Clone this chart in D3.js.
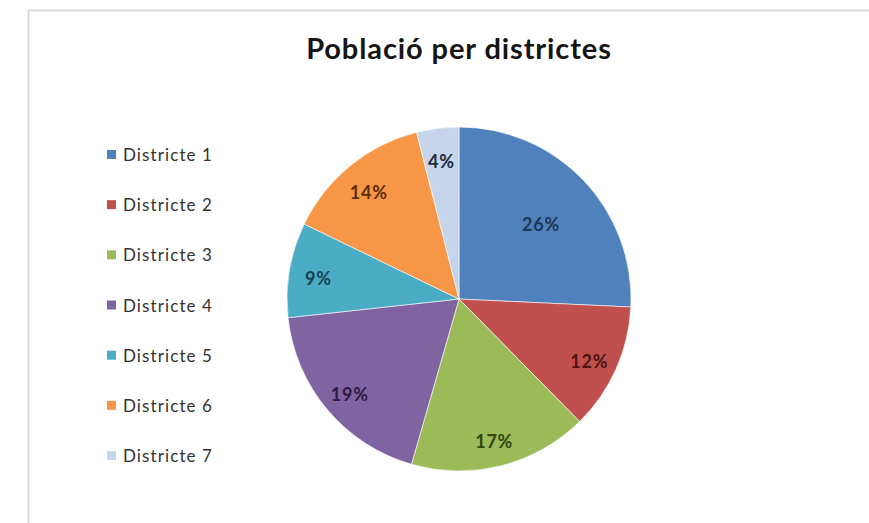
<!DOCTYPE html>
<html>
<head>
<meta charset="utf-8">
<script src="https://cdn.jsdelivr.net/npm/d3@7"></script>
<style>
  html, body { margin: 0; padding: 0; background: #ffffff; }
  svg { display: block; }
</style>
</head>
<body>
<svg id="chart" width="869" height="523"></svg>
<script>
// Population share per district (percent)
const categories = ["Districte 1", "Districte 2", "Districte 3", "Districte 4", "Districte 5", "Districte 6", "Districte 7"];
const values = [26, 12, 17, 19, 9, 14, 4];
const colors = ["#4F81BD", "#C0504D", "#9BBB59", "#8064A2", "#4BACC6", "#F79646", "#C6D5EB"];
const labelColors = ["#1d3656", "#4d1413", "#2f4512", "#2c1a44", "#12444f", "#5a2e06", "#1d2a3f"];
const title = "Població per districtes";

const svg = d3.select("#chart");
const W = 869, H = 523;
const FONT = "Lato, 'Open Sans', sans-serif";

// chart area frame
svg.append("rect").attr("x", 0).attr("y", 0).attr("width", W).attr("height", H).attr("fill", "#ffffff");
svg.append("path")
  .attr("d", `M28.5,${H} V10.5 H${W}`)
  .attr("fill", "none").attr("stroke", "#d9d9d9").attr("stroke-width", 2);

// title
svg.append("text")
  .attr("x", 459).attr("y", 59)
  .attr("text-anchor", "middle")
  .attr("font-family", FONT)
  .attr("font-weight", "bold")
  .attr("font-size", 29)
  .attr("letter-spacing", 0.9)
  .attr("fill", "#151515")
  .text(title);

// pie
const cx = 459, cy = 299, R = 172;
const pie = d3.pie().sort(null).value(d => d)(values);
const arc = d3.arc().innerRadius(0).outerRadius(R);
const g = svg.append("g").attr("transform", `translate(${cx},${cy})`);

g.selectAll("path.slice")
  .data(pie)
  .join("path")
  .attr("class", "slice")
  .attr("d", arc)
  .attr("fill", (d, i) => colors[i])
  .attr("stroke", "#ffffff")
  .attr("stroke-opacity", 0.6)
  .attr("stroke-width", 1);

// best-fit style label placement: the largest slice keeps its label nearer the centre
const labelR = i => (values[i] === d3.max(values) ? 0.66 : 0.83) * R;
g.selectAll("text.lbl")
  .data(pie)
  .join("text")
  .attr("class", "lbl")
  .attr("transform", (d, i) => {
    const a = (d.startAngle + d.endAngle) / 2;
    const r = labelR(i);
    return `translate(${r * Math.sin(a)},${-r * Math.cos(a) + 4})`;
  })
  .attr("dy", "0.36em")
  .attr("text-anchor", "middle")
  .attr("font-family", FONT)
  .attr("font-weight", "bold")
  .attr("font-size", 18)
  .attr("letter-spacing", 0.8)
  .attr("fill", (d, i) => labelColors[i])
  .text(d => d.data + "%");

// legend
const legend = svg.append("g").attr("transform", "translate(107,0)");
const rowY = d3.scalePoint().domain(categories).range([155, 456]);
const rows = legend.selectAll("g.row")
  .data(categories)
  .join("g")
  .attr("class", "row")
  .attr("transform", d => `translate(0,${rowY(d)})`);
rows.append("rect")
  .attr("x", 0).attr("y", -5).attr("width", 9).attr("height", 9)
  .attr("fill", (d, i) => colors[i]);
rows.append("text")
  .attr("x", 16).attr("y", 0)
  .attr("dy", "0.36em")
  .attr("font-family", FONT)
  .attr("font-size", 17)
  .attr("letter-spacing", 1.1)
  .attr("fill", "#333333")
  .text(d => d);
</script>
</body>
</html>
